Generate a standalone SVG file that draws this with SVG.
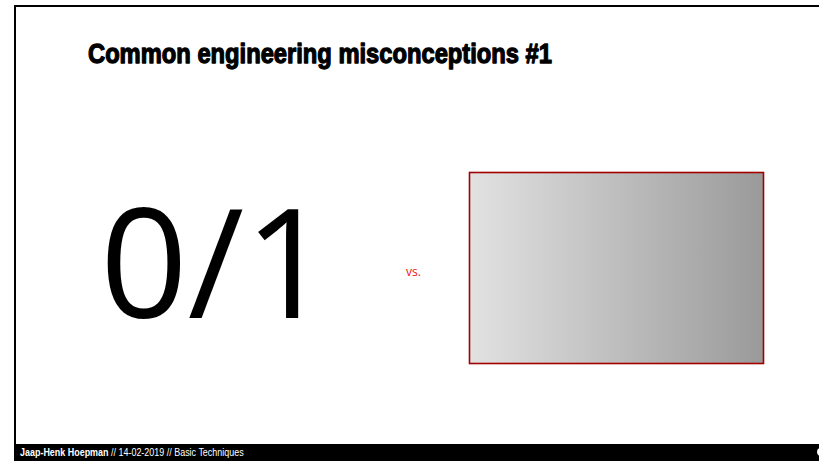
<svg xmlns="http://www.w3.org/2000/svg" width="819" height="461" viewBox="0 0 819 461">
<defs>
<linearGradient id="g" x1="0" y1="0" x2="1" y2="0">
<stop offset="0" stop-color="#e2e2e2"/>
<stop offset="1" stop-color="#9a9a9a"/>
</linearGradient>
<style>
.title{font-family:"Liberation Sans",Arial,sans-serif;font-weight:900;font-size:28px;fill:#000;stroke:#000;stroke-width:1.3px;stroke-linejoin:round}
.big{font-family:"Open Sans","Noto Sans",sans-serif;font-size:152px;fill:#000}
.vs{font-family:"Open Sans","Noto Sans",sans-serif;font-size:12px;fill:#ee1122}
.foot{font-family:"Liberation Sans",Arial,sans-serif;font-size:11px;fill:#fff}
</style>
</defs>
<rect width="819" height="461" fill="#fff"/>
<g id="frame">
<line x1="14" y1="6" x2="819" y2="6" stroke="#000" stroke-width="2"/>
<line x1="15" y1="5" x2="15" y2="445" stroke="#000" stroke-width="2"/>
<rect x="14" y="444" width="805" height="17" fill="#000"/>
<circle cx="821" cy="452" r="4" fill="#fff"/>
</g>
<g id="title"><text class="title" x="88" y="63" textLength="464" lengthAdjust="spacingAndGlyphs">Common engineering misconceptions #1</text></g>
<g id="binary"><text class="big" x="100" y="318" textLength="232" lengthAdjust="spacingAndGlyphs">0/1</text></g>
<g id="vs"><text class="vs" x="406" y="276">vs.</text></g>
<g id="spectrum"><rect x="469.5" y="172.5" width="294" height="191" fill="url(#g)" stroke="#a00000" stroke-width="1.6"/></g>
<g id="footer" transform="translate(20,456) scale(0.815,1)">
<text class="foot" x="0" y="0"><tspan font-weight="bold">Jaap-Henk Hoepman</tspan> // 14-02-2019 // Basic Techniques</text>
</g>
</svg>
